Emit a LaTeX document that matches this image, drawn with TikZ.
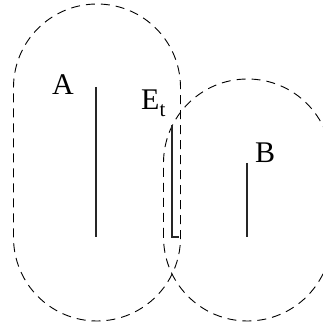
\documentclass[tikz,border=0pt]{standalone}
\usepackage{fontspec}
\setmainfont{Liberation Serif}
\begin{document}
\begin{tikzpicture}[x=1pt,y=1pt,
  region/.style={draw=black, line width=0.9pt, dash pattern=on 9pt off 6pt},
  seg/.style={draw=black!85, line width=1.8pt},
  lbl/.style={inner sep=0pt, anchor=base west, font=\fontsize{30}{32}\selectfont}]
\useasboundingbox (0,0) rectangle (323,327);
\clip (0,0) rectangle (323,327);
\path[region] (13.5,89.5) -- (13.5,239.5) arc[start angle=180, end angle=0, radius=83.5]
  -- (180.5,89.5) arc[start angle=0, end angle=-180, radius=83.5] -- cycle;
\path[region] (163.5,90) -- (163.5,164) arc[start angle=180, end angle=0, radius=84]
  -- (331.5,90) arc[start angle=0, end angle=-180, radius=84] -- cycle;
\coordinate (a1) at (96,240); \coordinate (a2) at (96,90);
\coordinate (b1) at (247,164); \coordinate (b2) at (247,90);
\coordinate (e1) at (172,202); \coordinate (e2) at (172,90); \coordinate (e3) at (179,90);
\path[seg] (a1) -- (a2);
\path[seg] (b1) -- (b2);
\path[seg] (e1) -- (e2) -- (e3);
\node[lbl] (la) at (52,232) {A};
\node[lbl] (le) at (141,217) {E\raisebox{-7pt}{\fontsize{21}{22}\selectfont t}};
\node[lbl] (lb) at (255,164) {B};
\end{tikzpicture}
\end{document}
